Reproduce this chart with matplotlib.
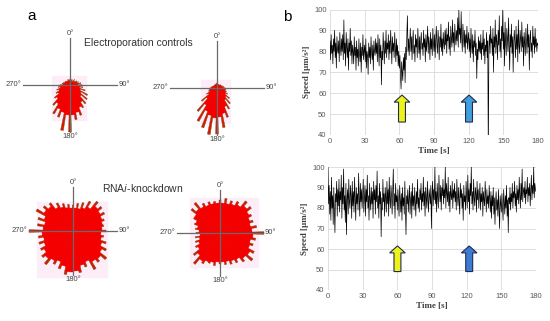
import numpy as np
import matplotlib
matplotlib.use("Agg")
import matplotlib.pyplot as plt
from matplotlib.patches import Rectangle

plt.rcParams['font.family'] = ['Liberation Sans', 'DejaVu Sans']

W, H = 550, 321

# ---- panel a: rose histograms ----
# body bins centred at 5, 15, ... 355 deg; thin spikes at 0, 10, ... 350 deg
body_deg = np.arange(5, 360, 10)
spike_deg = np.arange(0, 360, 10)

ctrl_left_body = [4, 3, 3, 4, 4, 5, 6, 7, 8, 9, 10, 11, 13, 15, 20, 24, 28, 30,
                  30, 28, 26, 22, 18, 14, 12, 10, 8, 7, 6, 5, 5, 4, 4, 4, 4, 4]
ctrl_left_spike = [6, 5, 6, 5, 7, 6, 8, 9, 11, 12, 13, 16, 20, 22, 24, 26, 32, 35,
                   47, 46, 34, 33, 26, 20, 16, 14, 12, 10, 8, 7, 6, 6, 5, 5, 6, 5]
ctrl_right_body = [3, 3, 3, 3, 3, 4, 4, 5, 6, 7, 8, 9, 10, 12, 14, 20, 26, 29,
                   30, 28, 25, 20, 14, 10, 8, 7, 6, 5, 4, 4, 3, 3, 3, 3, 3, 3]
ctrl_right_spike = [5, 4, 4, 4, 4, 5, 5, 6, 7, 8, 9, 10, 12, 16, 20, 24, 31, 40,
                    46, 47, 42, 38, 30, 20, 12, 9, 8, 7, 6, 5, 4, 4, 4, 4, 4, 5]
kd_left_body = [23, 23, 25, 28, 33, 32, 31, 30, 29, 28, 29, 31, 34, 37, 36, 33, 35, 40,
                41, 36, 33, 35, 37, 34, 31, 30, 31, 30, 29, 31, 34, 33, 28, 26, 24, 23]
kd_left_spike = [26, 28, 30, 34, 38, 37, 36, 33, 31, 33, 31, 35, 38, 43, 40, 44, 38, 42,
                 38, 44, 40, 38, 43, 40, 37, 36, 35, 44, 36, 37, 42, 38, 36, 32, 29, 27]
kd_right_body = [30, 30, 31, 33, 36, 34, 32, 31, 32, 33, 31, 32, 35, 34, 31, 30, 29, 29,
                 29, 30, 31, 33, 30, 26, 23, 21, 20, 21, 23, 26, 30, 32, 31, 30, 30, 30]
kd_right_spike = [33, 35, 34, 36, 41, 40, 36, 35, 37, 44, 36, 35, 39, 42, 37, 34, 33, 32,
                  31, 33, 32, 35, 40, 34, 28, 26, 25, 24, 25, 27, 30, 37, 39, 34, 33, 32]

# ---- panel b: speed traces ----
speed_ctrl = [
    85, 76, 88, 79, 83, 74, 86, 80, 90, 77, 84, 72, 87, 81, 79, 85, 75, 89, 82, 78,
    86, 80, 88, 76, 95, 79, 84, 73, 89, 82, 77, 86, 71, 84, 80, 91, 78, 85, 74, 83,
    80, 74, 87, 78, 82, 71, 85, 77, 81, 73, 86, 79, 75, 84, 70, 82, 78, 88, 76, 80,
    83, 75, 86, 72, 80, 78, 69, 84, 77, 82, 74, 87, 79, 76, 83, 71, 85, 80, 78, 86,
    79, 84, 75, 88, 81, 73, 86, 77, 83, 64, 80, 76, 89, 82, 74, 85, 79, 90, 77, 84,
    81, 88, 76, 85, 79, 90, 83, 74, 87, 80, 84, 77, 89, 82, 75, 86, 78, 83, 73, 80,
    72, 78, 68, 62, 75, 70, 66, 77, 71, 79, 65, 82, 76, 88, 97, 80, 86, 78, 84, 91,
    80, 87, 76, 85, 90, 79, 83, 75, 88, 82, 86, 77, 91, 84, 79, 87, 76, 85, 89, 81,
    84, 78, 90, 82, 86, 75, 88, 80, 85, 92, 79, 87, 83, 76, 89, 81, 86, 78, 91, 84,
    80, 88, 77, 86, 92, 83, 79, 90, 85, 76, 87, 82, 93, 80, 86, 78, 89, 84, 81, 90,
    83, 91, 79, 88, 85, 94, 81, 87, 78, 92, 86, 82, 95, 84, 89, 80, 93, 87, 83, 90,
    85, 96, 82, 100, 88, 91, 84, 99, 86, 80, 93, 87, 82, 90, 79, 88, 84, 92, 81, 86,
    89, 80, 86, 77, 91, 83, 79, 88, 75, 85, 82, 90, 78, 84, 67, 81, 76, 87, 80, 85,
    79, 88, 76, 84, 81, 90, 78, 86, 74, 83, 80, 89, 77, 85, 30, 82, 88, 79, 92, 84,
    86, 78, 91, 70, 87, 82, 95, 79, 88, 84, 76, 90, 83, 97, 80, 86, 77, 92, 85, 100,
    81, 89, 73, 94, 84, 78, 91, 86, 80, 96, 83, 71, 88, 82, 93, 79, 87, 70, 85, 90,
    84, 77, 92, 81, 88, 75, 95, 83, 79, 90, 86, 80, 94, 82, 87, 73, 89, 84, 78, 91,
    85, 79, 93, 82, 88, 71, 86, 90, 80, 84, 77, 92, 83, 87, 79, 91, 82, 86, 80, 84, 83]
speed_kd = [
    100, 82, 91, 77, 88, 74, 95, 80, 86, 72, 90, 79, 68, 87, 83, 93, 76, 89, 81, 94,
    78, 88, 84, 96, 75, 90, 82, 99, 79, 86, 73, 92, 67, 85, 89, 77, 94, 83, 80, 91,
    86, 75, 93, 81, 88, 78, 95, 84, 74, 90, 82, 87, 79, 97, 85, 76, 92, 83, 89, 80,
    87, 94, 78, 85, 91, 76, 89, 83, 96, 80, 86, 74, 92, 84, 79, 90, 82, 88, 75, 93,
    84, 89, 77, 91, 83, 98, 80, 86, 75, 92, 82, 88, 66, 85, 79, 94, 83, 87, 76, 90,
    85, 78, 93, 82, 89, 76, 95, 84, 80, 91, 86, 77, 88, 99, 81, 87, 75, 92, 83, 86,
    79, 89, 82, 76, 91, 84, 78, 87, 74, 90, 81, 85, 77, 93, 80, 67, 86, 82, 89, 78,
    85, 91, 77, 84, 88, 75, 92, 81, 86, 79, 90, 83, 76, 88, 82, 94, 80, 85, 78, 89,
    84, 92, 79, 87, 83, 95, 81, 88, 76, 90, 85, 80, 93, 84, 78, 89, 86, 82, 91, 70,
    86, 93, 81, 89, 84, 100, 82, 88, 78, 92, 85, 80, 96, 87, 83, 91, 79, 90, 86, 94,
    82, 89, 85, 100, 80, 92, 87, 83, 95, 81, 88, 78, 91, 86, 84, 93, 80, 89, 85, 92,
    83, 88, 79, 94, 86, 81, 90, 84, 77, 92, 85, 89, 80, 87, 74, 91, 83, 86, 79, 93,
    85, 80, 96, 83, 89, 77, 92, 86, 100, 82, 88, 79, 94, 85, 81, 90, 87, 78, 93, 84,
    89, 80, 86, 92, 79, 87, 83, 90, 76, 88, 84, 81, 93, 85, 78, 89, 82, 86, 80, 91,
    84, 78, 88, 75, 86, 81, 90, 77, 85, 72, 83, 88, 79, 84, 76, 89, 80, 70, 86, 82,
    78, 87, 81, 74, 89, 83, 77, 86, 80, 91, 76, 84, 68, 85, 82, 90, 79, 87, 83, 92,
    80, 88, 85, 93, 81, 87, 78, 91, 84, 89, 82, 95, 86, 80, 92, 84, 99, 83, 88, 90,
    85, 93, 82, 89, 87, 95, 83, 90, 86, 92, 81, 88, 96, 84, 91, 87, 100, 85, 92, 89, 88]

arrows_ctrl_x = [62.3, 120.3]
arrows_ctrl_y = [46.2, 59.1]
arrows_kd_x = [60.1, 122.2]
arrows_kd_y = [49.0, 61.5]
arrow_colors_ctrl = ['#eef21c', '#41a0dc']
arrow_colors_kd = ['#eef21c', '#3b7bd4']

fig = plt.figure(figsize=(W / 100, H / 100), dpi=100)


def px_box(cx, cy, r):
    return [(cx - r) / W, 1 - (cy + r) / H, 2 * r / W, 2 * r / H]


def rose(cx, cy, rmax, body, spikes):
    ax = fig.add_axes(px_box(cx, cy, rmax), projection='polar')
    ax.set_theta_zero_location('N')
    ax.set_theta_direction(-1)
    tb = np.deg2rad(body_deg)
    ts = np.deg2rad(spike_deg)
    rb = np.array(body, dtype=float)
    # pale pink backdrop around the body of the rose
    bx = rb * np.sin(tb)
    by = rb * np.cos(tb)
    m = 5
    x0 = (bx.min() - m + rmax) / (2 * rmax)
    x1 = (bx.max() + m + rmax) / (2 * rmax)
    y0 = (by.min() - m + rmax) / (2 * rmax)
    y1 = (by.max() + m + rmax) / (2 * rmax)
    ax.add_patch(Rectangle((x0, y0), x1 - x0, y1 - y0, transform=ax.transAxes,
                           color='#fdedf9', zorder=0, clip_on=False))
    ax.bar(ts, spikes, width=np.deg2rad(3.5), color='#d81800', edgecolor='#7a4a12',
           linewidth=0.3, zorder=1, clip_on=False)
    ax.bar(tb, rb, width=np.deg2rad(10), color='#f50000', edgecolor='#f50000',
           linewidth=0.3, zorder=2, clip_on=False)
    for a in [0, 90, 180, 270]:
        ax.plot([np.deg2rad(a)] * 2, [0, rmax], color='#6a6a6a', lw=0.9,
                zorder=3, clip_on=False)
    lab = dict(fontsize=5.5, color='#444444')
    ax.text(0, rmax + 1, '0°', ha='center', va='bottom', **lab)
    ax.text(np.pi / 2, rmax + 2, '90°', ha='left', va='center', **lab)
    ax.text(np.pi, rmax + 1, '180°', ha='center', va='top', **lab)
    ax.text(3 * np.pi / 2, rmax + 2, '270°', ha='right', va='center', **lab)
    ax.set_ylim(0, rmax)
    ax.set_axis_off()


rose(70, 85, 47, ctrl_left_body, ctrl_left_spike)
rose(217, 88, 47, ctrl_right_body, ctrl_right_spike)
rose(73, 231, 44, kd_left_body, kd_left_spike)
rose(220, 233, 43, kd_right_body, kd_right_spike)

fig.text(138 / W, 1 - 43 / H, 'Electroporation controls', ha='center',
         va='center', fontsize=7.5, color='#333333')
fig.text(143 / W, 1 - 188 / H, r'RNA$\it{i}$-knockdown', ha='center',
         va='center', fontsize=7.5, color='#333333')
fig.text(32 / W, 1 - 16 / H, 'a', ha='center', va='center', fontsize=11)
fig.text(287 / W, 1 - 17 / H, 'b', ha='center', va='center', fontsize=11)


def speed_panel(rect, speed, ax_x, ax_y, colors):
    ax = fig.add_axes(rect)
    t = np.linspace(0, 180, len(speed))
    ax.plot(t, speed, color='black', lw=0.5)
    ax.set_xlim(0, 180)
    ax.set_ylim(40, 100)
    ax.set_xticks(np.arange(0, 181, 30))
    ax.set_yticks(np.arange(40, 101, 10))
    ax.grid(color='#d9d9d9', lw=0.6)
    ax.set_axisbelow(True)
    for s in ax.spines.values():
        s.set_visible(False)
    ax.tick_params(length=0, labelsize=5.5, labelcolor='#595959', pad=2.5)
    ax.set_xlabel('Time [s]', family='Liberation Serif', fontweight='bold',
                  fontsize=6.5, labelpad=1, color='#404040')
    ax.set_ylabel('Speed [µm/s²]', family='Liberation Serif', fontweight='bold',
                  fontsize=6.5, labelpad=2, color='#404040')
    for x, c in zip(ax_x, colors):
        ax.arrow(x, ax_y[0], 0, ax_y[1] - ax_y[0], width=6, head_width=13.5,
                 head_length=3.4, length_includes_head=True, fc=c,
                 ec='#1f2d4d', lw=0.8, zorder=4)
    return ax


speed_panel([330 / W, 1 - 135 / H, 208 / W, 125.5 / H], speed_ctrl,
            arrows_ctrl_x, arrows_ctrl_y, arrow_colors_ctrl)
speed_panel([328 / W, 1 - 290 / H, 208 / W, 123 / H], speed_kd,
            arrows_kd_x, arrows_kd_y, arrow_colors_kd)

fig.savefig('out.png', dpi=100)
